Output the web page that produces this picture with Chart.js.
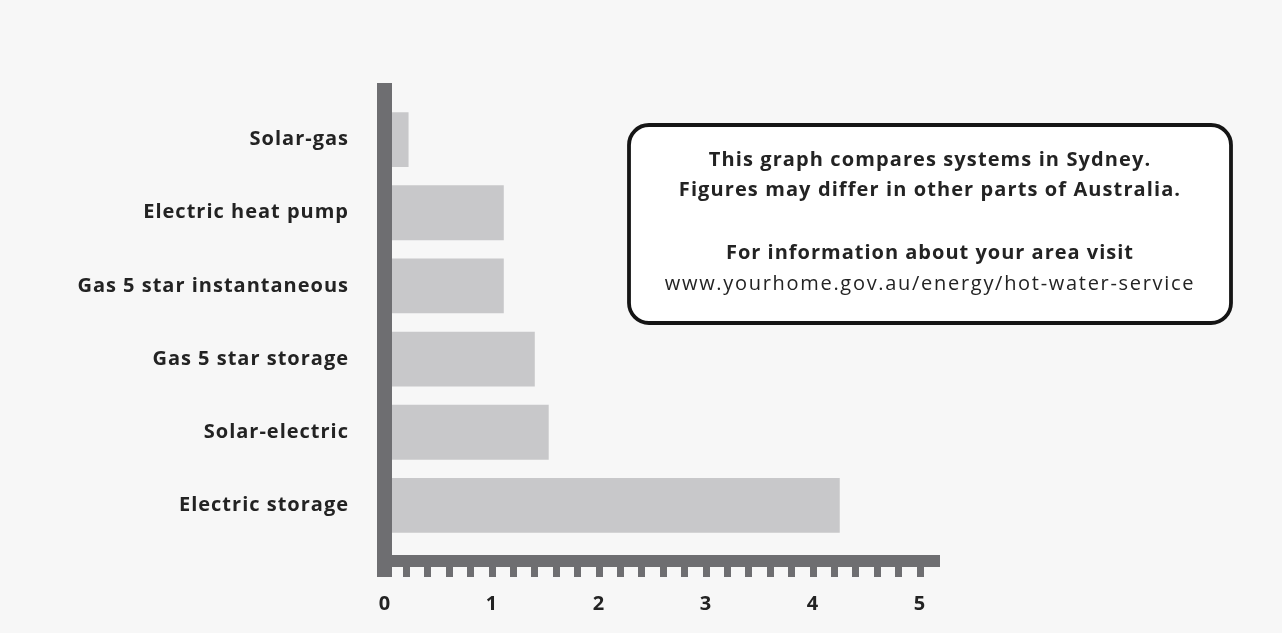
<!DOCTYPE html>
<html>
<head>
<meta charset="utf-8">
<script src="https://cdn.jsdelivr.net/npm/chart.js@4/dist/chart.umd.min.js"></script>
<style>
  html, body { margin: 0; padding: 0; background: #f7f7f7; }
  canvas { display: block; }
</style>
</head>
<body>
<canvas id="c" width="1282" height="633"></canvas>
<script>
// Hot water systems compared (Sydney)
const categories = [
  'Solar-gas',
  'Electric heat pump',
  'Gas 5 star instantaneous',
  'Gas 5 star storage',
  'Solar-electric',
  'Electric storage'
];
const values = [0.22, 1.11, 1.11, 1.40, 1.53, 4.25];
const xTickLabels = ['0', '1', '2', '3', '4', '5'];
const noteLines = [
  'This graph compares systems in Sydney.',
  'Figures may differ in other parts of Australia.',
  'For information about your area visit',
  'www.yourhome.gov.au/energy/hot-water-service'
];

const FONT = '"Open Sans", "DejaVu Sans", sans-serif';
const AXIS_COLOR = '#6e6e71';
const TEXT_COLOR = '#232323';

// page background, and a little tracking for all label text
const backgroundPlugin = {
  id: 'pageBackground',
  beforeDraw(chart) {
    const ctx = chart.ctx;
    ctx.letterSpacing = '1px';
    ctx.save();
    ctx.fillStyle = '#f7f7f7';
    ctx.fillRect(0, 0, chart.width, chart.height);
    ctx.restore();
  }
};

// heavy L-shaped axes with square minor ticks every 0.2
const heavyAxesPlugin = {
  id: 'heavyAxes',
  afterDatasetsDraw(chart) {
    const ctx = chart.ctx;
    const xs = chart.scales.x;
    const area = chart.chartArea;
    const x0 = xs.getPixelForValue(0);
    const xEnd = xs.getPixelForValue(xs.max) + 20;
    const barTop = area.bottom + 13;
    const barH = 12;
    const tickH = 10;
    ctx.save();
    ctx.fillStyle = AXIS_COLOR;
    // vertical axis
    ctx.fillRect(x0 - 8, area.top - 20, 15, barTop + barH + tickH - (area.top - 20));
    // horizontal axis
    ctx.fillRect(x0 - 8, barTop, xEnd - (x0 - 8), barH);
    // minor ticks
    for (let i = 1; i <= 25; i++) {
      const px = xs.getPixelForValue(i * 0.2);
      ctx.fillRect(Math.round(px - 3.5), barTop + barH - 1, 7, tickH + 1);
    }
    ctx.restore();
  }
};

// rounded note box
const noteBoxPlugin = {
  id: 'noteBox',
  afterDraw(chart) {
    const ctx = chart.ctx;
    const x = 629, y = 125, w = 602, h = 198, r = 20;
    ctx.save();
    ctx.beginPath();
    ctx.roundRect(x, y, w, h, r);
    ctx.fillStyle = '#ffffff';
    ctx.fill();
    ctx.lineWidth = 3.8;
    ctx.strokeStyle = '#151515';
    ctx.stroke();
    ctx.fillStyle = TEXT_COLOR;
    ctx.textAlign = 'center';
    ctx.textBaseline = 'middle';
    const cx = x + w / 2;
    ctx.font = 'bold 20px ' + FONT;
    ctx.letterSpacing = '1.1px';
    ctx.fillText(noteLines[0], cx, 160);
    ctx.fillText(noteLines[1], cx, 190);
    ctx.letterSpacing = '1px';
    ctx.fillText(noteLines[2], cx, 253);
    ctx.font = '20px ' + FONT;
    ctx.letterSpacing = '1.7px';
    ctx.fillText(noteLines[3], cx, 284);
    ctx.restore();
  }
};

new Chart(document.getElementById('c'), {
  type: 'bar',
  data: {
    labels: categories,
    datasets: [{
      data: values,
      backgroundColor: '#c8c8ca',
      borderWidth: 0,
      barPercentage: 0.75,
      categoryPercentage: 1.0
    }]
  },
  options: {
    indexAxis: 'y',
    responsive: false,
    animation: false,
    events: [],
    layout: { padding: { top: 103, right: 362, bottom: 0, left: 0 } },
    plugins: {
      legend: { display: false },
      tooltip: { enabled: false }
    },
    scales: {
      x: {
        type: 'linear',
        min: 0,
        max: 5,
        grid: { display: false, drawTicks: false },
        border: { display: false },
        afterFit(scale) { scale.height = 91; },
        ticks: {
          stepSize: 1,
          padding: 50,
          color: TEXT_COLOR,
          font: { family: FONT, size: 20, weight: 'bold' },
          callback: (v, i) => xTickLabels[i]
        }
      },
      y: {
        grid: { display: false, drawTicks: false },
        border: { display: false },
        afterFit(scale) { scale.width = 385; },
        ticks: {
          padding: 36,
          color: TEXT_COLOR,
          font: { family: FONT, size: 20, weight: 'bold' }
        }
      }
    }
  },
  plugins: [backgroundPlugin, heavyAxesPlugin, noteBoxPlugin]
});
</script>
</body>
</html>
